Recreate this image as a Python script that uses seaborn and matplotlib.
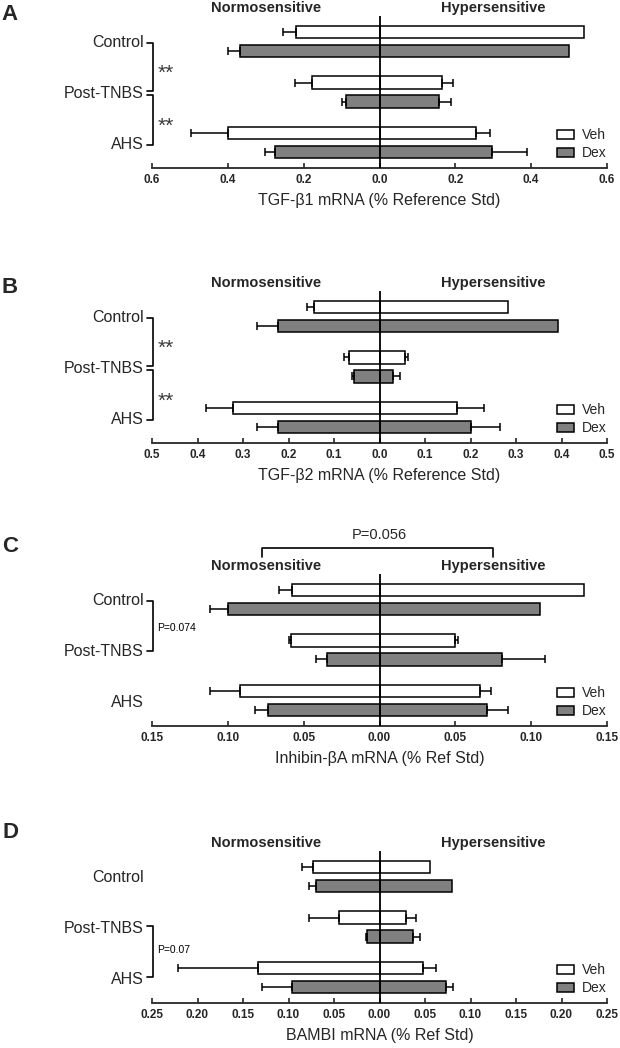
import numpy as np
import pandas as pd
import matplotlib
matplotlib.use("Agg")
import matplotlib.pyplot as plt
import matplotlib.transforms as mtransforms
from matplotlib.patches import Patch
import seaborn as sns

groups = ["Control", "Post-TNBS", "AHS"]
treatments = ["Veh", "Dex"]
colors = {"Veh": "white", "Dex": "#808080"}

# A - TGF-b1 (normosensitive plotted to the left, hypersensitive to the right)
a_normo_veh = [0.221, 0.177, 0.400]
a_normo_veh_err = [0.033, 0.047, 0.096]
a_normo_dex = [0.367, 0.089, 0.275]
a_normo_dex_err = [0.033, 0.010, 0.028]
a_hyper_veh = [0.540, 0.165, 0.254]
a_hyper_veh_err = [0.0, 0.028, 0.038]
a_hyper_dex = [0.501, 0.157, 0.297]
a_hyper_dex_err = [0.0, 0.031, 0.091]

# B - TGF-b2
b_normo_veh = [0.143, 0.067, 0.321]
b_normo_veh_err = [0.017, 0.011, 0.060]
b_normo_dex = [0.223, 0.056, 0.223]
b_normo_dex_err = [0.047, 0.005, 0.047]
b_hyper_veh = [0.282, 0.056, 0.171]
b_hyper_veh_err = [0.0, 0.007, 0.059]
b_hyper_dex = [0.392, 0.029, 0.202]
b_hyper_dex_err = [0.0, 0.017, 0.062]

# C - Inhibin-bA
c_normo_veh = [0.058, 0.0585, 0.092]
c_normo_veh_err = [0.008, 0.0015, 0.020]
c_normo_dex = [0.0996, 0.0346, 0.0736]
c_normo_dex_err = [0.012, 0.0074, 0.0084]
c_hyper_veh = [0.135, 0.050, 0.066]
c_hyper_veh_err = [0.0, 0.0015, 0.0076]
c_hyper_dex = [0.106, 0.0806, 0.0707]
c_hyper_dex_err = [0.0, 0.0284, 0.0138]

# D - BAMBI
d_normo_veh = [0.073, 0.045, 0.134]
d_normo_veh_err = [0.012, 0.033, 0.087]
d_normo_dex = [0.070, 0.0138, 0.096]
d_normo_dex_err = [0.008, 0.0012, 0.033]
d_hyper_veh = [0.055, 0.029, 0.048]
d_hyper_veh_err = [0.0, 0.011, 0.014]
d_hyper_dex = [0.080, 0.0366, 0.073]
d_hyper_dex_err = [0.0, 0.0074, 0.008]

panels = [
    dict(letter="A", xlabel="TGF-β1 mRNA (% Reference Std)", lim=0.6, step=0.2, dec=1,
         normo=(a_normo_veh, a_normo_dex), normo_err=(a_normo_veh_err, a_normo_dex_err),
         hyper=(a_hyper_veh, a_hyper_dex), hyper_err=(a_hyper_veh_err, a_hyper_dex_err)),
    dict(letter="B", xlabel="TGF-β2 mRNA (% Reference Std)", lim=0.5, step=0.1, dec=1,
         normo=(b_normo_veh, b_normo_dex), normo_err=(b_normo_veh_err, b_normo_dex_err),
         hyper=(b_hyper_veh, b_hyper_dex), hyper_err=(b_hyper_veh_err, b_hyper_dex_err)),
    dict(letter="C", xlabel="Inhibin-βA mRNA (% Ref Std)", lim=0.15, step=0.05, dec=2,
         normo=(c_normo_veh, c_normo_dex), normo_err=(c_normo_veh_err, c_normo_dex_err),
         hyper=(c_hyper_veh, c_hyper_dex), hyper_err=(c_hyper_veh_err, c_hyper_dex_err)),
    dict(letter="D", xlabel="BAMBI mRNA (% Ref Std)", lim=0.25, step=0.05, dec=2,
         normo=(d_normo_veh, d_normo_dex), normo_err=(d_normo_veh_err, d_normo_dex_err),
         hyper=(d_hyper_veh, d_hyper_dex), hyper_err=(d_hyper_veh_err, d_hyper_dex_err)),
]

sns.set_style("ticks")
plt.rcParams["font.family"] = ["Liberation Sans", "DejaVu Sans"]

W, H = 620, 1048
fig = plt.figure(figsize=(W / 100, H / 100), dpi=100)

# layout in pixels: axis line y of every panel, letter y
axis_y = [168, 443, 726, 1003]
letter_y = [14, 287, 547, 833]
ax_left, ax_w, ax_h = 152, 455, 152


def long_df(veh, dex, sign):
    return pd.DataFrame({
        "group": groups * 2,
        "treatment": ["Veh"] * 3 + ["Dex"] * 3,
        "value": [sign * v for v in list(veh) + list(dex)],
    })


axes = []
for i, p in enumerate(panels):
    ax = fig.add_axes([ax_left / W, 1 - axis_y[i] / H, ax_w / W, ax_h / H])
    axes.append(ax)

    # hypersensitive to the right, normosensitive to the left
    for vals, sign in [(p["hyper"], 1), (p["normo"], -1)]:
        sns.barplot(data=long_df(vals[0], vals[1], sign), x="value", y="group",
                    hue="treatment", order=groups, hue_order=treatments,
                    palette=colors, orient="h", width=0.75, gap=0.35,
                    edgecolor="black", linewidth=1.1, errorbar=None,
                    legend=False, ax=ax)

    # one sided error bars at the outer end of each bar
    errs = [p["hyper_err"][0], p["hyper_err"][1], p["normo_err"][0], p["normo_err"][1]]
    for cont, err in zip(ax.containers, errs):
        for bar, e in zip(cont, err):
            if e <= 0:
                continue
            xend = bar.get_x() + bar.get_width()
            yc = bar.get_y() + bar.get_height() / 2
            xerr = [[e], [0]] if xend < 0 else [[0], [e]]
            ax.errorbar(xend, yc, xerr=xerr, fmt="none", ecolor="black",
                        elinewidth=1.1, capsize=3.2, capthick=1.1, zorder=1)

    ax.axvline(0, color="black", lw=1.3, zorder=5)
    ax.set_xlim(-p["lim"], p["lim"])
    ax.set_ylim(2.5, -0.5)
    ticks = np.round(np.arange(-p["lim"], p["lim"] + p["step"] / 2, p["step"]), 3)
    ax.set_xticks(ticks)
    ax.set_xticklabels([f"{abs(t):.{p['dec']}f}" for t in ticks],
                       fontsize=8.5, fontweight="bold")
    ax.tick_params(axis="x", direction="in", length=3.5, width=1.2, pad=4.5)
    ax.tick_params(axis="y", length=0, pad=6, labelsize=11.5)
    ax.set_ylabel("")
    ax.set_xlabel(p["xlabel"], fontsize=11.5, labelpad=5)
    sns.despine(ax=ax, left=True)
    ax.spines["bottom"].set_linewidth(1.3)

    ax.annotate("Normosensitive", xy=(0.25, 1), xycoords="axes fraction",
                xytext=(0, 6), textcoords="offset points", ha="center",
                va="center", fontsize=10.5, fontweight="bold")
    ax.annotate("Hypersensitive", xy=(0.75, 1), xycoords="axes fraction",
                xytext=(0, 6), textcoords="offset points", ha="center",
                va="center", fontsize=10.5, fontweight="bold")

    handles = [Patch(facecolor=colors[t], edgecolor="black", linewidth=1.1) for t in treatments]
    ax.legend(handles, treatments, loc="lower right", bbox_to_anchor=(1.0, 0.05),
              frameon=False, fontsize=10, handlelength=1.2, handleheight=0.7,
              handletextpad=0.6, labelspacing=0.3, borderpad=0, borderaxespad=0)

    fig.text(10 / W, 1 - letter_y[i] / H, p["letter"], fontsize=16,
             fontweight="bold", ha="center", va="center")


def bracket(ax, y0, y1):
    trans = mtransforms.blended_transform_factory(ax.transAxes, ax.transData)
    ax.plot([-0.012, 0.002, 0.002, -0.012], [y0, y0, y1, y1], transform=trans,
            clip_on=False, color="black", lw=1.2)


def side_text(ax, y, s, size, color="black", dy=0):
    trans = mtransforms.blended_transform_factory(ax.transAxes, ax.transData)
    ax.text(0.012, y + dy, s, transform=trans, fontsize=size, color=color,
            ha="left", va="center")


# A, B: ** between groups
for ax in axes[:2]:
    bracket(ax, 0.04, 0.98)
    bracket(ax, 1.06, 2.04)
    side_text(ax, 0.55, "**", 15, "#3a3a3a", dy=0.08)
    side_text(ax, 1.6, "**", 15, "#3a3a3a", dy=0.08)

# C: P values
bracket(axes[2], 0.04, 1.02)
side_text(axes[2], 0.56, "P=0.074", 7.5)
axes[2].plot([0.242, 0.242, 0.749, 0.749], [1.112, 1.171, 1.171, 1.112],
             transform=axes[2].transAxes, clip_on=False, color="black", lw=1.2)
axes[2].text(0.5, 1.257, "P=0.056", transform=axes[2].transAxes,
             ha="center", va="center", fontsize=10.5)

# D: P value
bracket(axes[3], 0.99, 1.98)
side_text(axes[3], 1.45, "P=0.07", 7.5)

fig.savefig("out.png", dpi=100)
